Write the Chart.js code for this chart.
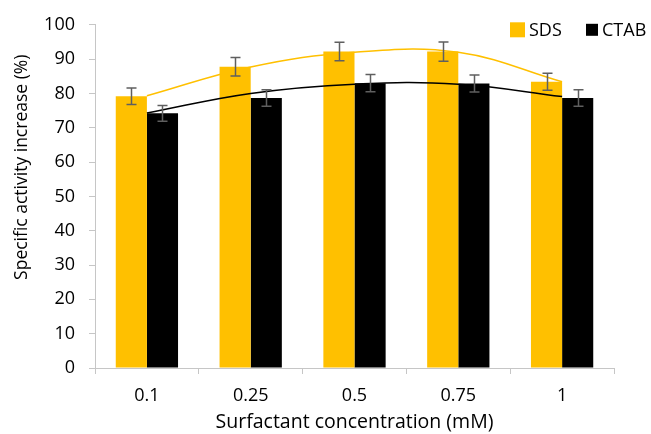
<!DOCTYPE html>
<html>
<head>
<meta charset="utf-8">
<script src="https://cdn.jsdelivr.net/npm/chart.js@4"></script>
<style>
  html, body { margin: 0; padding: 0; background: #fff; }
  #wrap { width: 651px; height: 434px; }
</style>
</head>
<body>
<div id="wrap"><canvas id="c" width="651" height="434"></canvas></div>
<script>
// Surfactant concentrations (mM)
const categories = ['0.1', '0.25', '0.5', '0.75', '1'];

// Specific activity increase (%) and standard deviations
const sdsValues  = [79.2, 87.8, 92.2, 92.2, 83.4];
const sdsErrors  = [2.4, 2.7, 2.7, 2.8, 2.5];
const ctabValues = [74.2, 78.7, 83.0, 82.9, 78.7];
const ctabErrors = [2.3, 2.4, 2.5, 2.5, 2.4];

// Polynomial trend curves evaluated at each concentration
const sdsTrend  = [79.3, 87.7, 92.0, 92.0, 83.4];
const ctabTrend = [74.3, 80.0, 82.7, 82.7, 79.1];

const yTicks = [0, 10, 20, 30, 40, 50, 60, 70, 80, 90, 100];

const yTitle = 'Specific activity increase (%)';
const xTitle = 'Surfactant concentration (mM)';

const FONT = "'Open Sans', 'Noto Sans', sans-serif";
const FONT_SIZE = 18;
const AXIS_GREY = '#c6c6c6';

// Draws ±SD whiskers with caps on top of each bar
const errorBars = {
  id: 'errorBars',
  afterDatasetsDraw(chart) {
    const ctx = chart.ctx;
    const y = chart.scales.y;
    const sets = [[0, sdsValues, sdsErrors], [1, ctabValues, ctabErrors]];
    ctx.save();
    ctx.strokeStyle = '#5f5f5f';
    ctx.lineWidth = 1.5;
    sets.forEach(([idx, vals, errs]) => {
      const meta = chart.getDatasetMeta(idx);
      meta.data.forEach((bar, i) => {
        const x = Math.round(bar.x) + 0.5;
        const top = y.getPixelForValue(vals[i] + errs[i]);
        const bot = y.getPixelForValue(vals[i] - errs[i]);
        ctx.beginPath();
        ctx.moveTo(x, top); ctx.lineTo(x, bot);
        ctx.moveTo(x - 5, top); ctx.lineTo(x + 5, top);
        ctx.moveTo(x - 5, bot); ctx.lineTo(x + 5, bot);
        ctx.stroke();
      });
    });
    ctx.restore();
  }
};

// Legend for the two bar series, placed in the upper-right corner over the plot,
// plus the vertical axis title set slightly above the plot's middle
const annotations = {
  id: 'annotations',
  afterDraw(chart) {
    const ctx = chart.ctx;
    const area = chart.chartArea;
    const items = [
      { ds: chart.data.datasets[0], box: 15, x: area.right - 104 },
      { ds: chart.data.datasets[1], box: 12, x: area.right - 28 }
    ];
    const cy = area.top + 5;
    ctx.save();
    ctx.font = FONT_SIZE + 'px ' + FONT;
    ctx.textBaseline = 'middle';
    ctx.textAlign = 'left';
    items.forEach(it => {
      ctx.fillStyle = it.ds.backgroundColor;
      ctx.fillRect(it.x, cy - it.box / 2, it.box, it.box);
      ctx.fillStyle = '#000';
      ctx.fillText(it.ds.label, it.x + it.box + 4, cy + 1);
    });

    ctx.translate(22, area.top + (area.bottom - area.top) * 0.415);
    ctx.rotate(-Math.PI / 2);
    ctx.font = '17.5px ' + FONT;
    ctx.textAlign = 'center';
    ctx.fillText(yTitle, 0, 0);
    ctx.restore();
  }
};

new Chart(document.getElementById('c'), {
  type: 'bar',
  data: {
    labels: categories,
    datasets: [
      { label: 'SDS', data: sdsValues, backgroundColor: '#FFC000', order: 2,
        categoryPercentage: 0.6, barPercentage: 1.0 },
      { label: 'CTAB', data: ctabValues, backgroundColor: '#000000', order: 2,
        categoryPercentage: 0.6, barPercentage: 1.0 },
      { type: 'line', label: 'SDS trend', data: sdsTrend, borderColor: '#FFC000',
        borderWidth: 1.5, pointRadius: 0, tension: 0.4, fill: false, order: 1 },
      { type: 'line', label: 'CTAB trend', data: ctabTrend, borderColor: '#000000',
        borderWidth: 1.5, pointRadius: 0, tension: 0.4, fill: false, order: 1 }
    ]
  },
  options: {
    responsive: false,
    animation: false,
    devicePixelRatio: 1,
    layout: { padding: { left: 0, right: 37, top: 22, bottom: 0 } },
    plugins: {
      legend: { display: false },
      tooltip: { enabled: false }
    },
    scales: {
      x: {
        offset: true,
        afterFit: s => { s.height = 66; },
        grid: { display: true, offset: true, drawOnChartArea: false, drawTicks: true,
                tickLength: 6, color: AXIS_GREY },
        border: { display: true, color: AXIS_GREY },
        ticks: { color: '#000', font: { family: FONT, size: FONT_SIZE }, padding: 11 },
        title: { display: true, text: xTitle, color: '#000',
                 font: { family: FONT, size: 19.5 }, padding: { top: 0, bottom: 0 } }
      },
      y: {
        min: 0, max: 100,
        afterFit: s => { s.width = 95; },
        afterBuildTicks: s => { s.ticks = yTicks.map(v => ({ value: v })); },
        grid: { display: true, drawOnChartArea: false, drawTicks: true,
                tickLength: 6, color: AXIS_GREY },
        border: { display: true, color: AXIS_GREY },
        ticks: { color: '#000', font: { family: FONT, size: FONT_SIZE }, padding: 14 },
        title: { display: false }
      }
    }
  },
  plugins: [errorBars, annotations]
});
</script>
</body>
</html>
